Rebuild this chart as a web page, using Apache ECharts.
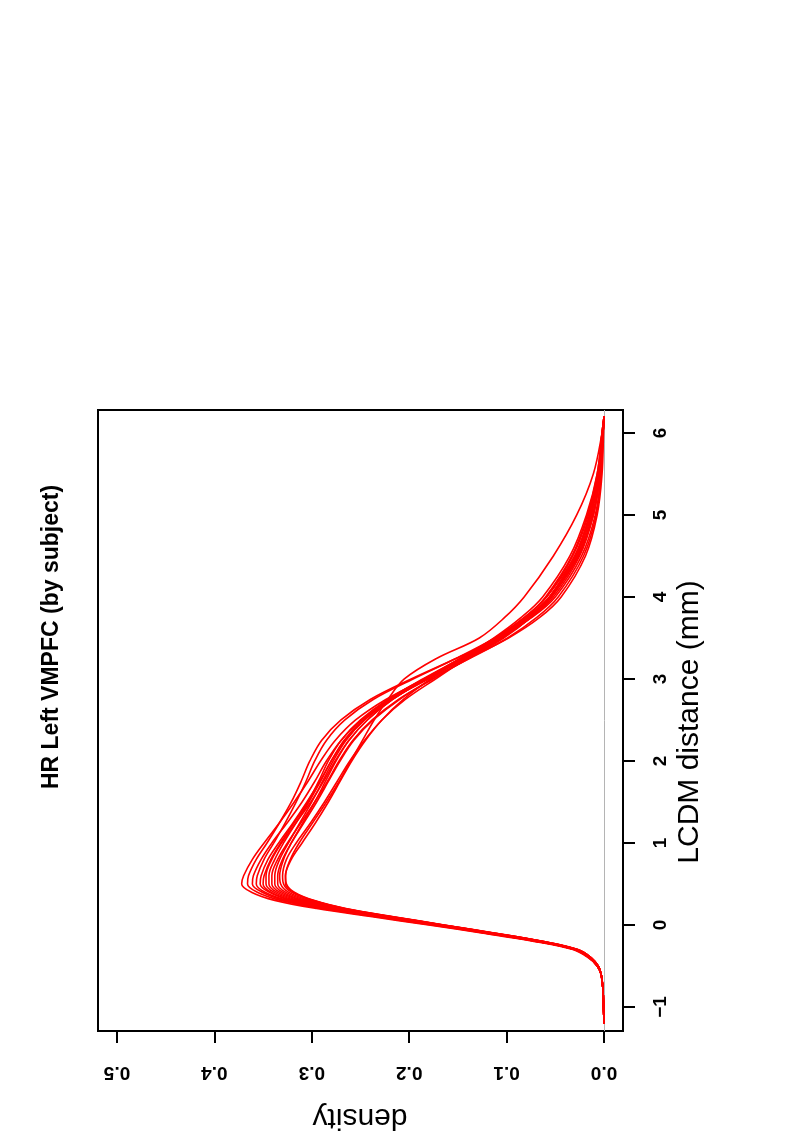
<!DOCTYPE html>
<html>
<head>
<meta charset="utf-8">
<title>HR Left VMPFC (by subject)</title>
<script src="https://cdn.jsdelivr.net/npm/echarts@6/dist/echarts.min.js"></script>
<style>
  html, body { margin: 0; padding: 0; background: #fff; }
  #chart { width: 795px; height: 1135px; }
</style>
</head>
<body>
<div id="chart"></div>
<script>
// LCDM distance (mm) where every subject curve is sampled
const distances = [-1.2, -1.0, -0.8, -0.6, -0.5, -0.4, -0.3, -0.2, -0.1, 0.0, 0.1, 0.2, 0.3, 0.4, 0.5, 0.6, 0.8, 1.0,
  1.25, 1.5, 1.75, 2.0, 2.25, 2.5, 2.75, 3.0, 3.25, 3.5, 3.75, 4.0, 4.5, 5.0, 5.5, 6.0, 6.2]

// density per subject
const subj01 = [0, 0.0005, 0.001, 0.003, 0.007, 0.016, 0.032, 0.072, 0.124, 0.18, 0.238, 0.295, 0.338, 0.362, 0.372, 0.370, 0.361, 0.349, 0.333, 0.318, 0.304, 0.291, 0.276, 0.255, 0.224, 0.184, 0.14, 0.098, 0.066, 0.044, 0.019, 0.007, 0.002, 0.0005, 0]
const subj02 = [0, 0.0005, 0.001, 0.003, 0.007, 0.015, 0.031, 0.07, 0.122, 0.177, 0.234, 0.29, 0.332, 0.356, 0.366, 0.365, 0.357, 0.346, 0.333, 0.321, 0.311, 0.302, 0.29, 0.27, 0.24, 0.198, 0.152, 0.107, 0.074, 0.05, 0.023, 0.009, 0.003, 0.001, 0]
const subj03 = [0, 0.0005, 0.001, 0.003, 0.007, 0.015, 0.03, 0.069, 0.12, 0.175, 0.232, 0.287, 0.328, 0.351, 0.361, 0.36, 0.352, 0.341, 0.325, 0.31, 0.297, 0.285, 0.27, 0.249, 0.219, 0.18, 0.138, 0.099, 0.069, 0.047, 0.021, 0.008, 0.003, 0.001, 0]
const subj04 = [0, 0.0005, 0.001, 0.003, 0.007, 0.015, 0.03, 0.069, 0.12, 0.174, 0.23, 0.285, 0.325, 0.348, 0.357, 0.356, 0.349, 0.339, 0.327, 0.316, 0.306, 0.297, 0.285, 0.266, 0.237, 0.196, 0.152, 0.112, 0.08, 0.056, 0.027, 0.011, 0.004, 0.001, 0]
const subj05 = [0, 0.0005, 0.001, 0.003, 0.007, 0.015, 0.03, 0.068, 0.119, 0.173, 0.229, 0.283, 0.322, 0.344, 0.353, 0.352, 0.345, 0.334, 0.319, 0.305, 0.292, 0.28, 0.266, 0.246, 0.218, 0.182, 0.143, 0.106, 0.076, 0.054, 0.026, 0.011, 0.004, 0.001, 0]
const subj06 = [0, 0.0005, 0.001, 0.003, 0.007, 0.015, 0.03, 0.068, 0.118, 0.172, 0.228, 0.282, 0.32, 0.342, 0.35, 0.349, 0.342, 0.332, 0.318, 0.304, 0.293, 0.283, 0.27, 0.25, 0.222, 0.185, 0.145, 0.105, 0.075, 0.052, 0.025, 0.011, 0.004, 0.001, 0]
const subj07 = [0, 0.0005, 0.001, 0.003, 0.006, 0.014, 0.029, 0.067, 0.117, 0.171, 0.226, 0.279, 0.317, 0.339, 0.347, 0.347, 0.341, 0.331, 0.316, 0.301, 0.288, 0.276, 0.262, 0.243, 0.217, 0.184, 0.148, 0.112, 0.082, 0.059, 0.03, 0.014, 0.005, 0.001, 0]
const subj08 = [0, 0.0005, 0.001, 0.003, 0.006, 0.014, 0.029, 0.066, 0.116, 0.17, 0.225, 0.277, 0.314, 0.336, 0.344, 0.344, 0.338, 0.329, 0.316, 0.303, 0.291, 0.28, 0.267, 0.248, 0.221, 0.186, 0.147, 0.109, 0.078, 0.055, 0.027, 0.012, 0.004, 0.001, 0]
const subj09 = [0, 0.0005, 0.001, 0.003, 0.006, 0.014, 0.029, 0.066, 0.116, 0.169, 0.223, 0.275, 0.311, 0.333, 0.341, 0.341, 0.335, 0.325, 0.311, 0.297, 0.284, 0.272, 0.258, 0.238, 0.211, 0.176, 0.139, 0.103, 0.075, 0.054, 0.028, 0.013, 0.005, 0.001, 0]
const subj10 = [0, 0.0005, 0.001, 0.003, 0.006, 0.014, 0.028, 0.065, 0.115, 0.168, 0.222, 0.273, 0.309, 0.33, 0.338, 0.338, 0.333, 0.324, 0.312, 0.3, 0.289, 0.278, 0.265, 0.246, 0.219, 0.184, 0.146, 0.108, 0.078, 0.056, 0.029, 0.014, 0.005, 0.001, 0]
const subj11 = [0, 0.0005, 0.001, 0.003, 0.006, 0.014, 0.028, 0.065, 0.114, 0.167, 0.221, 0.271, 0.306, 0.327, 0.335, 0.335, 0.33, 0.321, 0.308, 0.295, 0.283, 0.271, 0.257, 0.237, 0.21, 0.176, 0.14, 0.105, 0.077, 0.056, 0.03, 0.015, 0.006, 0.002, 0]
const subj12 = [0, 0.0005, 0.001, 0.003, 0.006, 0.013, 0.028, 0.064, 0.113, 0.166, 0.219, 0.269, 0.303, 0.324, 0.332, 0.333, 0.329, 0.321, 0.309, 0.297, 0.286, 0.275, 0.262, 0.243, 0.217, 0.183, 0.146, 0.11, 0.081, 0.059, 0.032, 0.016, 0.006, 0.002, 0]
const subj13 = [0, 0.0005, 0.001, 0.003, 0.006, 0.013, 0.027, 0.063, 0.112, 0.165, 0.218, 0.267, 0.3, 0.321, 0.329, 0.33, 0.326, 0.316, 0.301, 0.287, 0.274, 0.261, 0.246, 0.228, 0.204, 0.173, 0.141, 0.109, 0.081, 0.06, 0.033, 0.017, 0.007, 0.002, 0]
const subj14 = [0, 0.0005, 0.001, 0.003, 0.006, 0.013, 0.027, 0.063, 0.111, 0.164, 0.216, 0.265, 0.298, 0.318, 0.326, 0.327, 0.321, 0.31, 0.296, 0.283, 0.271, 0.259, 0.245, 0.228, 0.206, 0.178, 0.146, 0.113, 0.085, 0.063, 0.035, 0.018, 0.007, 0.002, 0]
const subj15 = [0, 0.0005, 0.001, 0.003, 0.006, 0.013, 0.027, 0.063, 0.112, 0.165, 0.217, 0.266, 0.299, 0.319, 0.327, 0.327, 0.322, 0.313, 0.299, 0.285, 0.272, 0.26, 0.248, 0.236, 0.222, 0.205, 0.172, 0.128, 0.102, 0.082, 0.052, 0.028, 0.011, 0.002, 0]

const subjects = [subj01, subj02, subj03, subj04, subj05, subj06, subj07, subj08,
  subj09, subj10, subj11, subj12, subj13, subj14, subj15]

// tick labels
const densityTicks = [0, 0.1, 0.2, 0.3, 0.4, 0.5]
const distanceTicks = [-1, 0, 1, 2, 3, 4, 5, 6]

const FONT = "'Liberation Sans', Arial, Helvetica, sans-serif"

const chart = echarts.init(document.getElementById('chart'), null, { renderer: 'canvas' })

// plot is turned a quarter turn: density runs right -> left, distance bottom -> top
const series = subjects.map((curve, k) => {
  const s = {
    name: 'subject ' + (k + 1),
    type: 'line',
    data: distances.map((d, i) => [curve[i], d]),
    smooth: 0.35,
    showSymbol: false,
    animation: false,
    lineStyle: { color: '#ff0000', width: 1.6 },
    z: 3
  }
  if (k === 0) {
    // abline(h = 0)
    s.markLine = {
      silent: true,
      symbol: 'none',
      label: { show: false },
      lineStyle: { color: '#b4b4b4', width: 1, type: 'solid' },
      data: [{ xAxis: 0 }],
      z: 1
    }
  }
  return s
})

const option = {
  backgroundColor: '#ffffff',
  animation: false,
  grid: {
    left: 98,
    right: 172,
    top: 410,
    bottom: 104,
    show: true,
    borderColor: '#000',
    borderWidth: 2,
    containLabel: false
  },
  xAxis: {
    type: 'value',
    inverse: true,
    min: -0.0195,
    max: 0.5195,
    splitLine: { show: false },
    axisLine: { show: false, onZero: false },
    axisTick: {
      show: true,
      customValues: densityTicks,
      length: 12,
      lineStyle: { color: '#000', width: 2 }
    },
    axisLabel: {
      customValues: densityTicks,
      rotate: 180,
      margin: 32,
      color: '#000',
      fontFamily: FONT,
      fontWeight: 'bold',
      fontSize: 19,
      formatter: (v) => v.toFixed(1)
    }
  },
  yAxis: {
    type: 'value',
    position: 'right',
    min: -1.293,
    max: 6.28,
    splitLine: { show: false },
    axisLine: { show: false, onZero: false },
    axisTick: {
      show: true,
      customValues: distanceTicks,
      length: 12,
      lineStyle: { color: '#000', width: 2 }
    },
    axisLabel: {
      customValues: distanceTicks,
      rotate: 90,
      margin: 28,
      color: '#000',
      fontFamily: FONT,
      fontWeight: 'bold',
      fontSize: 19,
      formatter: (v) => (v < 0 ? '\u2212' + Math.abs(v) : String(v))
    }
  },
  graphic: [
    {
      type: 'text',
      x: 52,
      y: 637,
      rotation: Math.PI / 2,
      style: {
        text: 'HR Left VMPFC (by subject)',
        font: 'bold 23px ' + FONT,
        fill: '#000',
        textAlign: 'center',
        textVerticalAlign: 'middle'
      }
    },
    {
      type: 'text',
      x: 690,
      y: 722,
      rotation: Math.PI / 2,
      style: {
        text: 'LCDM distance (mm)',
        font: '30px ' + FONT,
        fill: '#000',
        textAlign: 'center',
        textVerticalAlign: 'middle'
      }
    },
    {
      type: 'text',
      x: 360,
      y: 1117,
      rotation: Math.PI,
      style: {
        text: 'density',
        font: '30px ' + FONT,
        fill: '#000',
        textAlign: 'center',
        textVerticalAlign: 'middle'
      }
    }
  ],
  series: series
}

chart.setOption(option)
</script>
</body>
</html>
